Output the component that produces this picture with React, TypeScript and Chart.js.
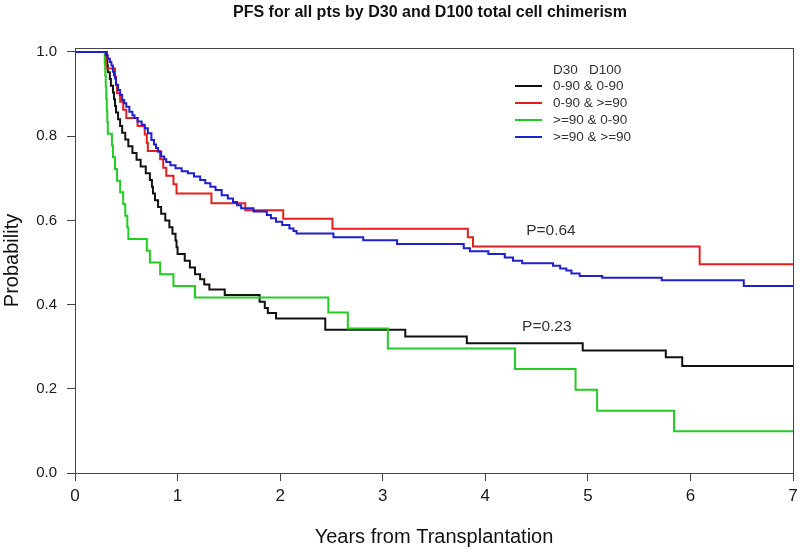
import React, { useEffect, useRef } from "react";
import { Chart, registerables } from "chart.js";

Chart.register(...registerables);

const FONT = "'Liberation Sans', Arial, sans-serif";

const chartTitle = "PFS for all pts by D30 and D100 total cell chimerism";
const xTitle = "Years from Transplantation";
const yTitle = "Probability";
const xTicks = [0, 1, 2, 3, 4, 5, 6, 7];
const yTicks = [0, 0.2, 0.4, 0.6, 0.8, 1.0];

const legendHeader = "D30   D100";
const seriesNames = ["0-90 & 0-90", "0-90 & >=90", ">=90 & 0-90", ">=90 & >=90"];
const seriesColors = ["#111111", "#e41e1e", "#22cc22", "#1f1fcc"];

// Kaplan-Meier step points: time (years) and survival after the step
const blackT = [0, 0.31, 0.315, 0.32, 0.34, 0.35, 0.37, 0.38, 0.39, 0.40, 0.42, 0.44, 0.46, 0.49, 0.52, 0.56, 0.60, 0.64, 0.69, 0.73, 0.75, 0.76, 0.78, 0.81, 0.84, 0.88, 0.92, 0.95, 0.98, 0.99, 1.00, 1.07, 1.12, 1.17, 1.22, 1.26, 1.31, 1.46, 1.80, 1.85, 1.88, 1.96, 2.44, 3.22, 3.82, 4.95, 5.76, 5.92, 7];
const blackS = [1, 0.984, 0.968, 0.952, 0.936, 0.920, 0.904, 0.888, 0.872, 0.856, 0.840, 0.824, 0.808, 0.792, 0.776, 0.760, 0.744, 0.728, 0.712, 0.696, 0.680, 0.664, 0.648, 0.632, 0.616, 0.600, 0.584, 0.568, 0.552, 0.536, 0.520, 0.504, 0.488, 0.472, 0.460, 0.448, 0.436, 0.423, 0.407, 0.392, 0.380, 0.367, 0.340, 0.324, 0.308, 0.291, 0.275, 0.254, 0.254];

const redT = [0, 0.30, 0.39, 0.40, 0.41, 0.44, 0.47, 0.50, 0.61, 0.68, 0.70, 0.71, 0.83, 0.86, 0.89, 0.96, 0.99, 1.33, 1.66, 2.03, 2.51, 3.83, 3.88, 6.09, 7];
const redS = [1, 0.961, 0.941, 0.922, 0.902, 0.882, 0.863, 0.843, 0.824, 0.804, 0.784, 0.765, 0.745, 0.725, 0.706, 0.686, 0.664, 0.641, 0.624, 0.604, 0.580, 0.560, 0.538, 0.496, 0.496];

const greenT = [0, 0.29, 0.295, 0.30, 0.305, 0.31, 0.315, 0.32, 0.36, 0.37, 0.39, 0.41, 0.44, 0.47, 0.49, 0.51, 0.52, 0.70, 0.73, 0.83, 0.96, 1.17, 2.47, 2.66, 3.05, 4.29, 4.88, 5.09, 5.84, 7];
const greenS = [1, 0.972, 0.944, 0.917, 0.889, 0.861, 0.833, 0.806, 0.778, 0.750, 0.722, 0.694, 0.667, 0.639, 0.611, 0.583, 0.556, 0.528, 0.500, 0.472, 0.444, 0.417, 0.381, 0.343, 0.296, 0.247, 0.198, 0.148, 0.099, 0.099];

const blueT = [0, 0.30, 0.32, 0.34, 0.355, 0.37, 0.38, 0.39, 0.40, 0.42, 0.44, 0.46, 0.48, 0.50, 0.53, 0.56, 0.58, 0.61, 0.65, 0.68, 0.71, 0.745, 0.77, 0.79, 0.81, 0.84, 0.87, 0.89, 0.93, 0.98, 1.04, 1.10, 1.16, 1.22, 1.27, 1.32, 1.37, 1.43, 1.49, 1.54, 1.58, 1.62, 1.74, 1.87, 1.91, 1.96, 2.02, 2.09, 2.13, 2.16, 2.52, 2.81, 3.14, 3.79, 3.85, 4.03, 4.19, 4.27, 4.36, 4.66, 4.73, 4.79, 4.84, 4.92, 5.14, 5.72, 6.52, 7];
const blueS = [1, 0.992, 0.984, 0.976, 0.968, 0.953, 0.945, 0.937, 0.922, 0.910, 0.898, 0.886, 0.878, 0.870, 0.858, 0.850, 0.843, 0.835, 0.827, 0.819, 0.807, 0.791, 0.780, 0.772, 0.763, 0.752, 0.745, 0.739, 0.731, 0.724, 0.717, 0.712, 0.704, 0.696, 0.688, 0.680, 0.672, 0.660, 0.652, 0.644, 0.636, 0.629, 0.621, 0.613, 0.605, 0.597, 0.589, 0.581, 0.575, 0.569, 0.560, 0.553, 0.544, 0.534, 0.527, 0.520, 0.512, 0.504, 0.498, 0.492, 0.486, 0.481, 0.474, 0.468, 0.464, 0.458, 0.444, 0.444];

const pLabels = ["P=0.64", "P=0.23"];
const pLabelX = [4.64, 4.60];
const pLabelY = [0.575, 0.348];

const seriesT = [blackT, redT, greenT, blueT];
const seriesS = [blackS, redS, greenS, blueS];

const decorPlugin = {
  id: "decor",
  afterDraw(chart: any) {
    const { ctx, chartArea, scales } = chart;
    ctx.save();
    // plot box
    ctx.strokeStyle = "#444";
    ctx.lineWidth = 1;
    ctx.strokeRect(chartArea.left + 0.5, chartArea.top + 0.5, chartArea.right - chartArea.left, chartArea.bottom - chartArea.top);
    // title
    ctx.fillStyle = "#111";
    ctx.font = `bold 16px ${FONT}`;
    ctx.textAlign = "center";
    ctx.textBaseline = "alphabetic";
    ctx.fillText(chartTitle, 430, 17);
    // p-values
    ctx.fillStyle = "#333";
    ctx.font = `15.5px ${FONT}`;
    ctx.textBaseline = "middle";
    pLabels.forEach((t, i) => {
      ctx.fillText(t, scales.x.getPixelForValue(pLabelX[i]), scales.y.getPixelForValue(pLabelY[i]));
    });
    // legend
    ctx.textAlign = "left";
    ctx.font = `13.5px ${FONT}`;
    ctx.fillStyle = "#333";
    ctx.fillText(legendHeader, 553, 70);
    seriesNames.forEach((n, i) => {
      const y = 86 + i * 17;
      ctx.strokeStyle = seriesColors[i];
      ctx.lineWidth = 2;
      ctx.beginPath();
      ctx.moveTo(515, y);
      ctx.lineTo(542, y);
      ctx.stroke();
      ctx.fillStyle = "#333";
      ctx.fillText(n, 553, y);
    });
    ctx.restore();
  },
};

export default function App() {
  const ref = useRef<HTMLCanvasElement | null>(null);
  useEffect(() => {
    document.body.style.margin = "0";
    const canvas = ref.current;
    if (!canvas) return;
    const datasets = seriesNames.map((name, i) => ({
      label: name,
      data: seriesT[i].map((t, j) => ({ x: t, y: seriesS[i][j] })),
      borderColor: seriesColors[i],
      backgroundColor: seriesColors[i],
      borderWidth: 2,
      pointRadius: 0,
      fill: false,
      stepped: "before" as const,
      order: 3 - i,
    }));
    const chart = new Chart(canvas, {
      type: "line",
      data: { datasets },
      options: {
        animation: false,
        responsive: false,
        maintainAspectRatio: false,
        layout: { padding: { top: 48, right: 7, left: 0, bottom: 0 } },
        plugins: { legend: { display: false }, tooltip: { enabled: false }, title: { display: false } },
        scales: {
          x: {
            type: "linear",
            min: 0,
            max: 7,
            afterBuildTicks: (s: any) => {
              s.ticks = xTicks.map((v) => ({ value: v }));
            },
            afterFit: (s: any) => {
              s.height = 79;
              s.paddingLeft = 0;
              s.paddingRight = 0;
            },
            grid: { drawOnChartArea: false, tickLength: 8, color: "#444" },
            border: { color: "#444", width: 1 },
            ticks: { font: { size: 17, family: FONT }, color: "#1a1a1a", padding: 5, maxRotation: 0, autoSkip: false },
            title: { display: true, text: xTitle, font: { size: 20, family: FONT }, color: "#111", padding: { top: 0, bottom: 3 } },
          },
          y: {
            type: "linear",
            min: 0,
            max: 1.0095,
            afterBuildTicks: (s: any) => {
              s.ticks = yTicks.map((v) => ({ value: v }));
            },
            afterFit: (s: any) => {
              s.width = 75;
              s.paddingTop = 0;
              s.paddingBottom = 0;
            },
            grid: { drawOnChartArea: false, tickLength: 8, color: "#444" },
            border: { color: "#444", width: 1 },
            ticks: { font: { size: 15, family: FONT }, color: "#1a1a1a", padding: 10, callback: (v: any) => Number(v).toFixed(1) },
            title: { display: true, text: yTitle, font: { size: 20, family: FONT }, color: "#111", padding: { top: 0, bottom: 0 } },
          },
        },
      },
      plugins: [decorPlugin],
    });
    return () => chart.destroy();
  }, []);
  return (
    <div style={{ width: 800, height: 552 }}>
      <canvas ref={ref} width={800} height={552} style={{ display: "block" }} />
    </div>
  );
}
